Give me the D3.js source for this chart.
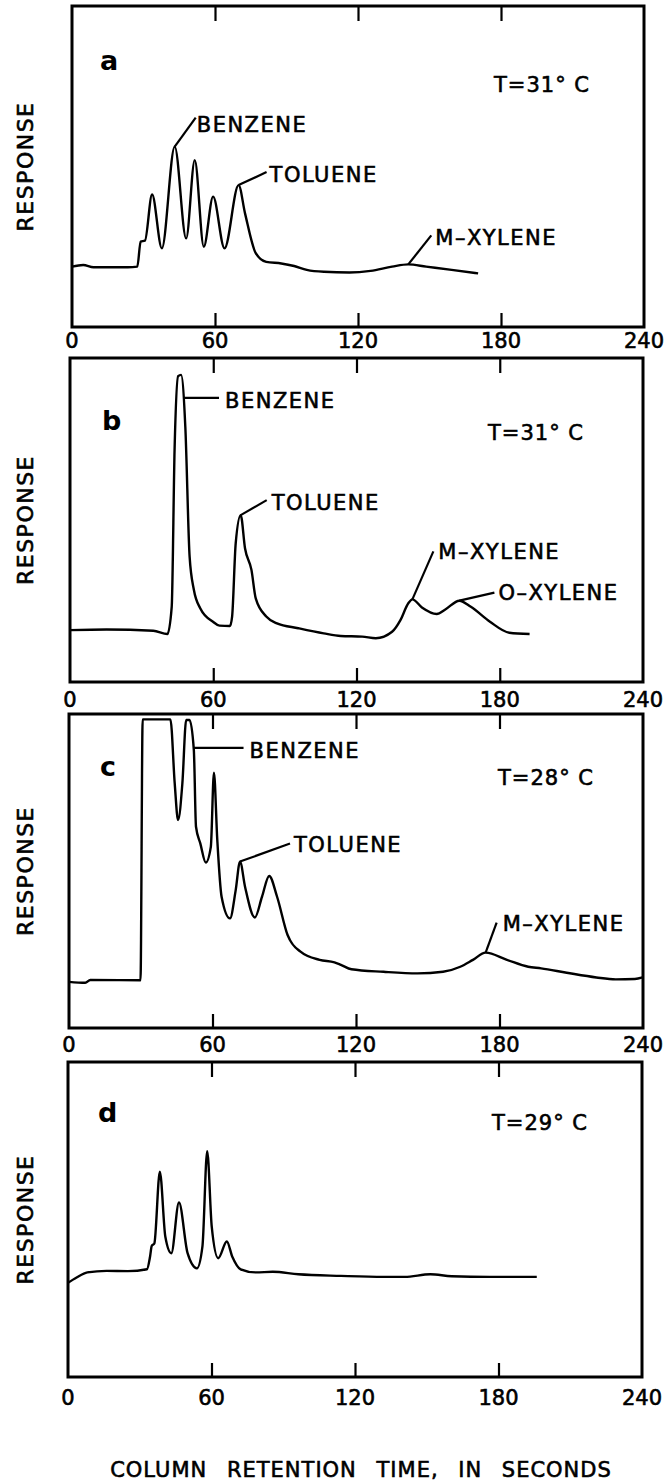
<!DOCTYPE html>
<html>
<head>
<meta charset="utf-8">
<script src="https://cdn.jsdelivr.net/npm/d3@7"></script>
<style>
body{margin:0;background:#fff;}
text{font-family:"DejaVu Sans",sans-serif;fill:#000;stroke:#000;stroke-width:0.6px;}
text.id{stroke-width:0;}
</style>
</head>
<body>
<svg id="chart"></svg>
<script>
// x ticks shared by every panel
const TICKS = [0,60,120,180,240];

// chromatograms, time in seconds, response in % of panel height
const timeA = [0,4.7,9,23.4,27.4,28.8,30.6,33.6,37.7,43.1,47.9,51.5,55.3,59.2,64,69.9,72.6,77.1,81.5,87.8,93.2,98.5,105.7,116.4,125.3,134.3,141.1,148.6,159.3,170.4];
const respA = [18.8,19.3,18.6,18.6,18.8,26.6,26.9,41.3,24.5,56.2,27.6,52,25,40.6,24.5,44.2,35.4,23,20.3,19.8,19,17.8,17.2,17,17.5,18.8,19.5,18.8,17.8,16.7];

const timeB = [0,15.3,34.9,40.8,42.6,43.8,45.3,46.5,48.3,50.1,51.9,54.6,59.9,62.6,67,67.9,69.4,71.5,73.3,76,77.8,82.2,86.7,95.6,106.3,113.4,122.4,128.1,134.9,138.4,141.7,143.4,147.4,153.6,157.2,163.1,167.9,175.9,184,192.5];
const respB = [16,16.2,15.8,14.8,23.2,71.6,94.4,94.8,78.8,38.7,28.4,22.7,18.6,17.4,17.3,20.2,42.8,51.5,41.3,34.6,25.8,20.2,18.1,16.6,15,14.2,14,13.5,15.5,19.1,24.3,25.5,23,21,22.4,25.1,23.2,18.6,15.2,14.8];

const timeC = [0,6.8,8.9,29.9,30.8,42.4,44.2,45.6,47.4,49,50.4,52.2,53.1,54.9,57.2,59.3,60.6,62,63.8,67.3,69.7,71.5,73.6,77.7,80.7,83.7,87,91.4,96.8,104.8,111,113.7,118.1,131.5,145.7,156.4,163.6,168.9,174.2,183.1,192,197.4,208.1,220.5,228.6,236.6,239.8];
const respC = [14.7,14.4,15.3,15.2,98.3,98.3,77.9,66.2,77.9,98.1,98.1,88.5,64.1,58.8,52.7,57.7,81.3,59.9,41.8,34.9,43.9,53,45,35.2,41.8,48.4,41.8,29.6,24.3,21.7,20.9,20.1,18.7,17.9,17.4,17.9,19.5,21.7,24,21.7,19.5,19,17.6,16.1,15.5,15.6,16.1];

const timeD = [0,3.6,8.1,16.1,25,33,34.3,35,36.1,38.4,40.7,43.2,46.4,50,53.9,56.2,58.2,60.1,62.8,66.4,68.7,72.2,78.5,85.6,96.3,114.1,131.9,140.8,151.5,160.4,176.4,196];
const respD = [29.9,31.6,33.2,33.7,33.6,34.2,38.2,41.6,42.4,65.2,44.5,39.3,55.4,39.3,34.5,41.4,71.7,47.7,37.7,43,38.2,34.2,33.2,33.4,32.6,32.1,31.8,31.8,32.6,32,31.8,31.8];

// panel letters and temperatures
const PANEL_IDS = ["a","b","c","d"];
const TEMPS = ["T=31° C","T=31° C","T=28° C","T=29° C"];

// labelled peaks: name, [time, response] of the peak
const namesA = ["BENZENE","TOLUENE","M–XYLENE"];
const peaksA = [[43.1,56.2],[69.9,44.2],[141.1,19.5]];
const namesB = ["BENZENE","TOLUENE","M–XYLENE","O–XYLENE"];
const peaksB = [[46.5,94.8],[71.5,51.5],[143.4,25.5],[163.1,25.1]];
const namesC = ["BENZENE","TOLUENE","M–XYLENE"];
const peaksC = [[50.4,98.1],[71.5,53],[174.2,24]];
const namesD = [];
const peaksD = [];

// layout (pixels): frame of each panel, label placement
const layout = [
  {left:72,right:644,top:6,bottom:327,tickY:21,letter:[28,64],temp:[422,86],
   callouts:[{s:[0,0],e:[21,-29],t:[22,-15]},{s:[0,0],e:[28,-13],t:[31,-3]},{s:[0,0],e:[23,-29],t:[27,-19]}]},
  {left:70,right:643,top:358,bottom:682,tickY:25,letter:[32,72],temp:[418,82],
   callouts:[{s:[2,23],e:[38,23],t:[44,33]},{s:[0,0],e:[26,-15],t:[31,-5]},{s:[0,0],e:[21,-48],t:[26,-40]},{s:[0,0],e:[35,-8],t:[39,-1]}]},
  {left:69,right:643,top:714,bottom:1028,tickY:24,letter:[31,62],temp:[429,71],
   callouts:[{s:[4,28],e:[54,28],t:[60,38]},{s:[0,0],e:[50,-18],t:[54,-10]},{s:[0,0],e:[11,-30],t:[17,-22]}]},
  {left:68,right:642,top:1062,bottom:1377,tickY:28,letter:[30,60],temp:[424,68],
   callouts:[]}
];

const series = [
  {time:timeA,resp:respA,names:namesA,peaks:peaksA},
  {time:timeB,resp:respB,names:namesB,peaks:peaksB},
  {time:timeC,resp:respC,names:namesC,peaks:peaksC},
  {time:timeD,resp:respD,names:namesD,peaks:peaksD}
];

const W = 666;
const H = 1484;

const svg = d3.select("#chart")
  .attr("width",W)
  .attr("height",H)
  .attr("viewBox",`0 0 ${W} ${H}`);

series.forEach((s,i)=>{

  const L = layout[i];

  const x = d3.scaleLinear()
    .domain([0,240])
    .range([L.left,L.right]);

  const y = d3.scaleLinear()
    .domain([0,100])
    .range([L.bottom,L.top]);

  const g = svg.append("g");

  // ticks inside the frame, top and bottom
  g.append("g")
    .attr("transform",`translate(0,${L.bottom})`)
    .call(d3.axisTop(x).tickValues(TICKS.slice(1,-1)).tickSize(14).tickFormat(""))
    .call(a=>a.select(".domain").remove())
    .selectAll("line").attr("stroke-width",2.2);

  g.append("g")
    .attr("transform",`translate(0,${L.top})`)
    .call(d3.axisBottom(x).tickValues(TICKS.slice(1,-1)).tickSize(15).tickFormat(""))
    .call(a=>a.select(".domain").remove())
    .selectAll("line").attr("stroke-width",2.2);

  // tick labels below the frame
  g.selectAll(".tl")
    .data(TICKS)
    .join("text")
    .attr("x",d=>x(d))
    .attr("y",L.bottom+L.tickY)
    .attr("text-anchor","middle")
    .attr("font-size",21)
    .text(d=>d);

  g.append("rect")
    .attr("x",L.left)
    .attr("y",L.top)
    .attr("width",L.right-L.left)
    .attr("height",L.bottom-L.top)
    .attr("fill","none")
    .attr("stroke","#000")
    .attr("stroke-width",3);

  const line = d3.line()
    .x((d,j)=>x(s.time[j]))
    .y(d=>y(d))
    .curve(d3.curveMonotoneX);

  g.append("path")
    .attr("d",line(s.resp))
    .attr("fill","none")
    .attr("stroke","#000")
    .attr("stroke-width",2.4)
    .attr("stroke-linejoin","round");

  // y title
  g.append("text")
    .attr("transform",`translate(33,${(L.top+L.bottom)/2}) rotate(-90)`)
    .attr("text-anchor","middle")
    .attr("font-size",22)
    .attr("letter-spacing",1.5)
    .text("RESPONSE");

  g.append("text")
    .attr("class","id")
    .attr("x",L.left+L.letter[0])
    .attr("y",L.top+L.letter[1])
    .attr("font-size",27)
    .attr("font-weight","bold")
    .text(PANEL_IDS[i]);

  g.append("text")
    .attr("x",L.left+L.temp[0])
    .attr("y",L.top+L.temp[1])
    .attr("font-size",21)
    .attr("letter-spacing",1)
    .text(TEMPS[i]);

  // peak callouts
  s.names.forEach((name,k)=>{
    const c = L.callouts[k];
    const px = x(s.peaks[k][0]);
    const py = y(s.peaks[k][1]);
    g.append("line")
      .attr("x1",px+c.s[0]).attr("y1",py+c.s[1])
      .attr("x2",px+c.e[0]).attr("y2",py+c.e[1])
      .attr("stroke","#000")
      .attr("stroke-width",2.2);
    g.append("text")
      .attr("x",px+c.t[0])
      .attr("y",py+c.t[1])
      .attr("font-size",21)
      .attr("letter-spacing",1.5)
      .text(name);
  });

});

svg.append("text")
  .attr("x",361)
  .attr("y",1477)
  .attr("text-anchor","middle")
  .attr("font-size",21)
  .attr("letter-spacing",1)
  .attr("word-spacing",12)
  .text("COLUMN RETENTION TIME, IN SECONDS");
</script>
</body>
</html>
